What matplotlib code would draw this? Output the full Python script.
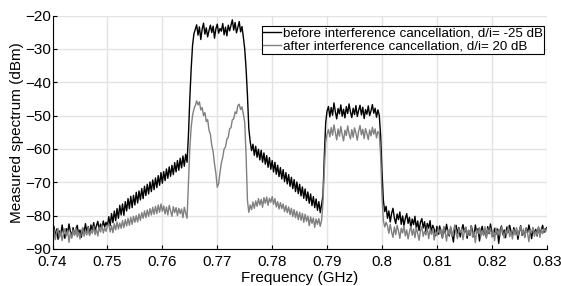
import numpy as np
import matplotlib
matplotlib.use("Agg")
import matplotlib.pyplot as plt

plt.rcParams['font.family'] = ['Liberation Sans', 'DejaVu Sans']

# measured spectrum (dBm), one value every 0.25 MHz starting at 0.74 GHz
before = [
    # 0.740 - 0.750
    -85.5, -83.2, -86.4, -84.0, -87.1, -84.6, -85.9, -82.8, -85.3, -86.8,
    -83.9, -85.2, -82.5, -84.7, -86.3, -83.6, -85.8, -84.1, -82.9, -85.6,
    -84.3, -86.5, -83.7, -85.0, -82.4, -84.9, -83.3, -85.7, -82.8, -84.4,
    -82.1, -84.6, -83.0, -81.7, -84.2, -82.5, -83.8, -81.6, -83.4, -82.0, -83.1,
    # rising shoulder up to 0.7645
    -80.3, -83.0, -79.4, -82.1, -78.6, -81.5, -77.9, -80.8, -76.9, -79.8,
    -76.5, -79.9, -75.8, -78.6, -74.9, -77.9, -74.2, -77.6, -73.9, -76.8,
    -73.0, -76.2, -72.6, -75.3, -71.9, -74.9, -71.2, -74.0, -70.6, -73.5,
    -69.9, -72.8, -69.3, -72.2, -68.7, -71.6, -68.0, -70.9, -67.1, -70.3,
    -66.8, -69.5, -66.0, -68.8, -65.4, -68.2, -64.9, -67.7, -64.1, -66.9,
    -63.5, -66.4, -62.8, -65.7, -62.1, -65.2, -61.6, -64.0,
    # edge
    -56.0, -45.0, -36.0, -29.0, -25.5, -24.2,
    # first band (interferer)
    -22.8, -25.9, -23.4, -27.2, -24.1, -22.3, -25.6, -23.7, -26.4, -24.5,
    -22.9, -25.1, -23.2, -26.8, -24.0, -22.6, -25.3, -23.9, -24.7, -22.4,
    -25.8, -23.5, -26.1, -22.9, -24.6, -23.0, -21.3, -24.4, -22.1, -25.2,
    -23.6, -21.8, -24.9, -23.3,
    # edge
    -26.5, -30.0, -36.0, -44.0, -54.0, -57.8, -60.5, -58.6,
    # falling shoulder up to 0.789
    -61.9, -59.2, -62.5, -60.1, -63.3, -60.4, -64.0, -61.2, -64.6, -62.0,
    -65.5, -62.6, -66.1, -63.5, -66.9, -64.0, -67.6, -64.9, -68.3, -65.6,
    -69.0, -66.2, -69.8, -67.1, -70.5, -67.7, -71.2, -68.5, -71.9, -69.2,
    -72.8, -69.9, -73.4, -70.6, -74.1, -71.4, -74.8, -72.0, -75.5, -72.9,
    -76.3, -73.5, -77.0, -74.3, -77.6, -75.0, -78.4, -75.8, -79.1, -76.5,
    # edge
    -74.0, -62.0, -52.0, -48.6, -47.3,
    # second band (desired)
    -50.4, -47.6, -49.9, -46.2, -48.8, -51.0, -47.9, -49.5, -46.8, -50.2,
    -48.1, -50.7, -47.3, -49.4, -46.5, -48.9, -50.6, -47.8, -49.7, -47.0,
    -50.3, -48.4, -46.9, -49.8, -47.5, -50.9, -48.2, -49.6, -47.1, -50.0,
    -48.6, -46.7, -49.3, -47.8, -50.5, -48.3, -49.9,
    # edge
    -56.0, -67.0, -75.5, -78.8, -77.2,
    # 0.801 - 0.810
    -80.8, -78.6, -81.9, -79.3, -77.8, -80.7, -82.4, -79.5, -81.2, -78.9,
    -82.6, -80.1, -83.0, -80.8, -79.4, -82.3, -80.5, -83.6, -81.0, -82.7,
    -80.2, -83.9, -81.6, -84.5, -82.0, -80.9, -83.7, -81.8, -84.9, -82.3,
    -83.8, -81.5, -85.2, -82.9, -84.1, -86.0, -83.2,
    # 0.810 - 0.830
    -85.6, -83.1, -84.9, -86.7, -83.4, -85.2, -82.6, -84.8, -86.1, -83.7,
    -85.5, -87.9, -84.0, -82.9, -85.3, -83.6, -86.4, -84.2, -82.7, -85.0,
    -83.5, -86.8, -84.4, -85.9, -83.0, -84.7, -86.3, -82.8, -85.1, -83.9,
    -87.6, -84.6, -83.2, -85.8, -84.1, -86.5, -83.3, -85.4, -82.5, -84.9,
    -86.2, -83.8, -85.6, -84.0, -88.3, -84.5, -83.1, -85.7, -84.3, -86.6,
    -83.4, -85.0, -82.9, -84.8, -86.0, -83.6, -85.3, -84.2, -87.1, -84.7,
    -83.0, -85.9, -84.4, -86.3, -83.7, -85.2, -82.8, -84.6, -86.9, -83.9,
    -85.4, -84.1, -86.1, -83.5, -85.7, -84.3, -82.9, -85.0, -84.2, -83.6,
]

after = [
    # 0.740 - 0.750
    -86.3, -84.1, -87.2, -85.0, -83.8, -86.6, -84.7, -87.5, -85.4, -83.9,
    -86.1, -84.5, -88.0, -85.2, -86.8, -84.3, -85.9, -83.7, -86.4, -84.9,
    -87.0, -85.1, -83.6, -86.2, -84.4, -85.8, -83.5, -86.0, -84.6, -85.3,
    -83.2, -85.7, -84.0, -86.1, -83.4, -84.9, -82.8, -85.2, -83.6, -84.7, -83.0,
    # shoulder up to 0.7645
    -82.6, -84.9, -83.0, -85.1, -82.4, -84.3, -81.9, -84.0, -82.2, -83.8,
    -81.5, -83.6, -81.2, -83.1, -80.8, -82.9, -80.5, -82.6, -80.2, -82.0,
    -80.0, -81.9, -79.5, -81.4, -79.1, -80.8, -78.6, -80.6, -78.3, -80.2,
    -77.9, -79.8, -77.5, -79.6, -77.2, -79.4, -76.8, -79.0, -76.5, -78.7,
    -77.1, -79.5, -77.4, -79.8, -76.9, -78.6, -80.2, -77.3, -79.1, -77.6,
    -80.0, -77.8, -79.4, -78.0, -80.6, -77.5, -79.3, -80.8,
    # edge
    -70.0, -60.0, -53.5, -50.0, -48.0, -47.0,
    # residual of first band
    -45.6, -46.8, -45.9, -48.3, -47.6, -50.0, -49.1, -51.8, -51.2, -54.4,
    -55.6, -58.9, -60.8, -64.5, -67.3, -71.5, -70.4, -67.0, -64.2, -62.5,
    -60.0, -59.4, -57.1, -56.5, -54.0, -53.6, -51.2, -51.0, -48.9, -49.4,
    -47.0, -46.6, -48.2, -47.4,
    # edge
    -49.5, -52.0, -62.0, -75.5, -79.0, -76.8, -78.2, -75.9,
    # shoulder up to 0.789
    -77.8, -75.6, -77.2, -74.9, -76.8, -75.1, -77.5, -74.6, -76.3, -74.4,
    -76.9, -74.8, -76.0, -74.3,
    -76.6, -74.9, -77.4, -75.8, -78.0, -76.1, -77.9, -76.5, -78.8, -77.0,
    -79.1, -77.4, -79.7, -77.8, -80.3, -78.2, -80.6, -78.7, -81.2, -79.0,
    -81.4, -79.3, -82.0, -79.6, -81.7, -80.1, -83.0, -80.4, -82.3, -80.7,
    -83.5, -81.0, -82.6, -80.9, -83.2, -81.4,
    # edge
    -76.0, -66.0, -58.0, -55.5, -54.2,
    # second band
    -56.4, -53.6, -55.9, -52.8, -55.1, -57.3, -54.0, -56.2, -53.3, -55.7,
    -57.6, -54.4, -56.0, -53.1, -55.5, -57.0, -54.2, -56.5, -53.7, -55.2,
    -57.4, -54.6, -53.0, -55.8, -54.1, -56.9, -53.9, -55.4, -57.2, -54.3,
    -56.1, -53.5, -55.6, -54.0, -56.7, -54.8, -55.3,
    # edge
    -62.0, -74.0, -81.5, -83.4, -82.0,
    # 0.801 - 0.810
    -83.1, -85.3, -82.6, -84.9, -86.5, -83.4, -85.7, -82.9, -84.6, -86.8,
    -83.8, -85.2, -83.0, -86.1, -84.3, -87.0, -84.8, -83.2, -85.9, -84.0,
    -86.6, -83.6, -85.4, -87.4, -84.5, -83.3, -86.2, -84.7, -85.8, -83.5,
    -86.9, -84.2, -85.6, -83.9, -87.3, -84.8, -86.0,
    # 0.810 - 0.830
    -83.7, -85.5, -84.1, -86.7, -83.4, -85.0, -87.6, -84.3, -85.8, -83.2,
    -86.3, -84.6, -82.8, -85.4, -86.9, -83.9, -85.1, -84.0, -87.2, -84.7,
    -83.5, -86.0, -84.4, -85.7, -83.0, -86.5, -84.9, -88.1, -84.2, -85.3,
    -83.6, -86.2, -84.5, -85.9, -83.3, -86.8, -84.0, -85.2, -83.8, -86.4,
    -84.6, -87.5, -83.7, -85.6, -84.1, -86.1, -83.4, -85.0, -86.7, -84.3,
    -85.5, -83.1, -86.3, -84.8, -87.0, -84.2, -85.8, -83.6, -86.0, -84.5,
    -83.2, -85.7, -84.0, -86.6, -83.9, -85.3, -87.8, -84.4, -85.1, -83.5,
    -86.2, -84.7, -85.9, -83.3, -86.5, -84.1, -85.4, -83.8, -84.9, -84.0,
]

freq = 0.74 + 0.00025 * np.arange(len(before))
freq_after = 0.74 + 0.00025 * np.arange(len(after))
xticks = [0.74, 0.75, 0.76, 0.77, 0.78, 0.79, 0.8, 0.81, 0.82, 0.83]
xticklabels = ['0.74', '0.75', '0.76', '0.77', '0.78', '0.79', '0.8', '0.81', '0.82', '0.83']
yticks = [-90, -80, -70, -60, -50, -40, -30, -20]

fig = plt.figure(figsize=(5.61, 2.86), dpi=100)
ax = fig.add_axes([0.0936, 0.1294, 0.881, 0.8164])

ax.plot(freq, before, color='black', lw=1.0,
        label='before interference cancellation, d/i= -25 dB')
ax.plot(freq_after, after, color='#808080', lw=1.0,
        label='after interference cancellation, d/i= 20 dB')

ax.set_xlim(0.74, 0.83)
ax.set_ylim(-90, -20)
ax.set_xticks(xticks)
ax.set_xticklabels(xticklabels)
ax.set_yticks(yticks)
ax.grid(True, color='#e3e3e3', lw=1.0)
ax.set_axisbelow(True)
ax.spines['top'].set_visible(False)
ax.spines['right'].set_visible(False)
ax.tick_params(direction='in', length=3, labelsize=11)
ax.tick_params(axis='x', pad=4.5)
ax.tick_params(axis='y', pad=1)
ax.set_xlabel('Frequency (GHz)', fontsize=11, labelpad=1)
ax.set_ylabel('Measured spectrum (dBm)', fontsize=11, labelpad=1)

leg = ax.legend(loc='upper right', bbox_to_anchor=(0.995, 0.955), borderaxespad=0,
                fontsize=9.6, fancybox=False, edgecolor='black', framealpha=1,
                borderpad=0.12, labelspacing=0.0, handletextpad=0.15, handlelength=1.3)
leg.get_frame().set_linewidth(0.8)

fig.savefig('out.png', dpi=100)
